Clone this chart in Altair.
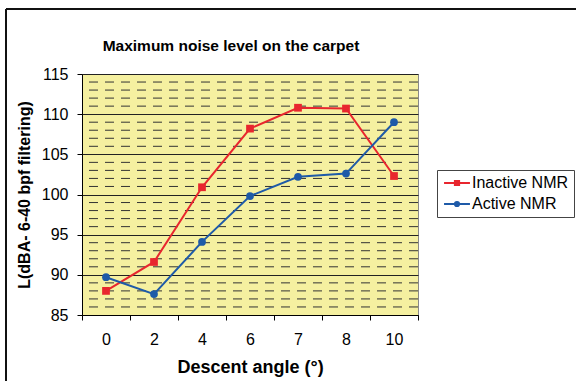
import altair as alt
import pandas as pd

angles = ["0", "2", "4", "6", "7", "8", "10"]
inactive = [88.0, 91.6, 100.9, 108.2, 110.8, 110.7, 102.3]
active = [89.7, 87.6, 94.1, 99.8, 102.2, 102.6, 109.0]
series_names = ["Inactive NMR", "Active NMR"]
series_colors = ["#E8262E", "#1E5AA8"]
marker_shapes = ["square", "circle"]
major_ticks = [85, 90, 95, 100, 105, 110, 115]
minor_ticks = [v for v in range(86, 115) if v % 5 != 0]

rows = []
for a, v in zip(angles, inactive):
    rows.append({"angle": a, "L": v, "series": series_names[0]})
for a, v in zip(angles, active):
    rows.append({"angle": a, "L": v, "series": series_names[1]})
df = pd.DataFrame(rows)

FONT = "Liberation Sans"

xenc = alt.X("angle:O", sort=angles,
             scale=alt.Scale(type="band", domain=angles, paddingInner=0, paddingOuter=0),
             axis=alt.Axis(title="Descent angle (°)", labelAngle=0, tickBand="extent",
                           tickSize=5, tickColor="#000", domainColor="#000",
                           labelFontSize=16, labelFont=FONT, labelColor="#000", labelPadding=11,
                           titleFontSize=18, titleFont=FONT, titleFontWeight="bold",
                           titleColor="#000", titlePadding=11, grid=False))
yscale = alt.Scale(domain=[85, 115], nice=False, zero=False)
yaxis = alt.Axis(title="L(dBA- 6-40 bpf filtering)", values=major_ticks,
                 tickSize=5, tickColor="#000", domainColor="#000",
                 grid=True, gridColor="#222", gridWidth=1,
                 labelFontSize=16, labelFont=FONT, labelColor="#000", labelPadding=9,
                 titleFontSize=16, titleFont=FONT, titleFontWeight="bold",
                 titleColor="#000", titlePadding=9)
yenc = alt.Y("L:Q", scale=yscale, axis=yaxis)

sel_color = "datum.value === 'Inactive NMR' ? '#E8262E' : '#1E5AA8'"
sel_shape = ("datum.value === 'Inactive NMR' ? 'M-1.85,0H1.85M-0.3,-0.3H0.3V0.3H-0.3Z' : "
             "'M-1.85,0H1.85M-0.3,0A0.3,0.3 0 1,0 0.3,0A0.3,0.3 0 1,0 -0.3,0Z'")

legend = alt.Legend(
    title=None, orient="none", legendX=355, legendY=96,
    strokeColor="#444", fillColor="white", padding=5,
    symbolSize=196, symbolStrokeWidth=2, symbolOffset=7,
    symbolType={"expr": sel_shape},
    symbolFillColor={"expr": sel_color},
    symbolStrokeColor={"expr": sel_color},
    symbolOpacity=1,
    labelFontSize=16, labelFont=FONT, labelColor="#000", labelOffset=7,
    rowPadding=5)

cscale = alt.Scale(domain=series_names, range=series_colors)
color = alt.Color("series:N", sort=series_names, scale=cscale, legend=legend)
color_nolegend = alt.Color("series:N", sort=series_names, scale=cscale, legend=None)

minor = alt.Chart(pd.DataFrame({"L": minor_ticks})).mark_rule(
    color="#333", strokeWidth=1, strokeDash=[9, 7]).encode(
    y=alt.Y("L:Q", scale=yscale, axis=yaxis))

lines = alt.Chart(df).mark_line(strokeWidth=2).encode(x=xenc, y=yenc, color=color)

point_layers = []
for name, shp in zip(series_names, marker_shapes):
    point_layers.append(
        alt.Chart(df).transform_filter(alt.datum.series == name)
        .mark_point(filled=True, size=60, opacity=1, shape=shp)
        .encode(x=xenc, y=yenc, color=color_nolegend))

title = alt.Chart(pd.DataFrame({"t": ["Maximum noise level on the carpet"]})).mark_text(
    font=FONT, fontSize=15.5, fontWeight="bold", color="#000", align="center", baseline="middle"
).encode(text="t:N", x=alt.value(149), y=alt.value(-28))

frame_top = alt.Chart(pd.DataFrame({"a": [0]})).mark_rule(color="#111", strokeWidth=2).encode(
    x=alt.value(-76), x2=alt.value(494), y=alt.value(-65))
frame_left = alt.Chart(pd.DataFrame({"a": [0]})).mark_rule(color="#111", strokeWidth=2).encode(
    x=alt.value(-76), y=alt.value(-65), y2=alt.value(310))

chart = alt.layer(minor, lines, *point_layers, title, frame_top, frame_left).properties(
    width=336, height=241,
    autosize=alt.AutoSizeParams(type="none"),
    padding={"left": 82, "top": 74, "right": 158, "bottom": 66},
    background="white",
).configure_view(fill="#F5F0A0", stroke="#888", strokeWidth=1)

chart.save("out.html", embed_options={"renderer": "svg", "actions": False})
